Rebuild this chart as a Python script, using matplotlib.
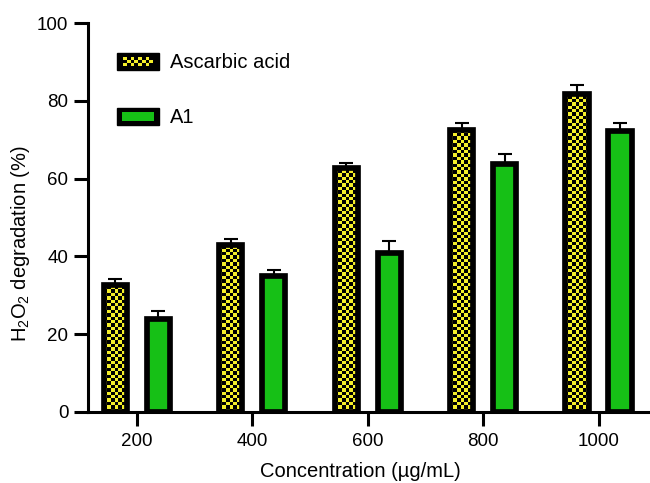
import numpy as np
import matplotlib
matplotlib.use("Agg")
import matplotlib.pyplot as plt
from matplotlib.patches import Patch, Rectangle
from matplotlib.colors import ListedColormap
from matplotlib.legend_handler import HandlerBase

plt.rcParams['font.family'] = ['Liberation Sans', 'DejaVu Sans']
plt.rcParams['mathtext.default'] = 'regular'

concentrations = ['200', '400', '600', '800', '1000']
ascorbic = [32.6, 42.9, 62.8, 72.5, 81.7]
ascorbic_err = [1.7, 1.6, 1.2, 1.8, 2.4]
a1 = [23.8, 34.9, 40.9, 63.7, 72.2]
a1_err = [2.1, 1.5, 3.2, 2.6, 2.1]

yellow = '#f4ee2a'
green = '#16c016'

x = np.arange(len(concentrations))
w = 0.202
off = 0.186
lw = 4.1

fig = plt.figure(figsize=(6.5, 4.83), dpi=100)
ax = fig.add_axes([0.135, 0.147, 0.865, 0.805])

bars_a = ax.bar(x - off, ascorbic, w, facecolor='none', edgecolor='black', linewidth=lw, zorder=3)
bars_b = ax.bar(x + off, a1, w, facecolor=green, edgecolor='black', linewidth=lw, zorder=3)

# checkerboard fill for the ascorbic acid bars
cw, ch = 3.4 / 115.3, 3.4 / 3.887
for b in bars_a:
    x0, y0, bw, bh = b.get_x(), b.get_y(), b.get_width(), b.get_height()
    nx, ny = int(bw / cw) + 1, int(bh / ch) + 1
    board = np.indices((ny, nx)).sum(axis=0) % 2
    img = ax.imshow(board, cmap=ListedColormap([yellow, 'black']),
                    extent=[x0, x0 + nx * cw, y0, y0 + ny * ch], origin='lower',
                    aspect='auto', interpolation='nearest', zorder=2)
    img.set_clip_path(b)

ax.errorbar(x - off, ascorbic, yerr=[np.zeros(5), ascorbic_err], fmt='none', ecolor='black',
            elinewidth=1.5, capsize=5, capthick=1.5, zorder=2.5)
ax.errorbar(x + off, a1, yerr=[np.zeros(5), a1_err], fmt='none', ecolor='black',
            elinewidth=1.5, capsize=5, capthick=1.5, zorder=2.5)

ax.set_xlim(-0.425, 4.445)
ax.set_ylim(0, 100)
ax.set_yticks([0, 20, 40, 60, 80, 100])
ax.set_xticks(x)
ax.set_xticklabels(concentrations)
ax.spines['top'].set_visible(False)
ax.spines['right'].set_visible(False)
ax.spines['left'].set_linewidth(2.2)
ax.spines['bottom'].set_linewidth(2.2)
ax.tick_params(axis='both', width=2.2, length=10, labelsize=13.5)
ax.tick_params(axis='x', pad=5)
ax.tick_params(axis='y', pad=4)

ax.set_xlabel('Concentration (µg/mL)', fontsize=14.5, va='top')
ax.xaxis.set_label_coords(0.484, -0.128)
ax.set_ylabel('H$_2$O$_2$ degradation (%)', fontsize=14.5)
ax.yaxis.set_label_coords(-0.10, 0.434)


class CheckerHandler(HandlerBase):
    def create_artists(self, legend, orig_handle, xdescent, ydescent, width, height, fontsize, trans):
        arts = [Rectangle((-xdescent, -ydescent), width, height, facecolor='black',
                          edgecolor='black', transform=trans)]
        n, m = 8, 3
        mx, my = width * 0.15, height * 0.25
        sx, sy = (width - 2 * mx) / n, (height - 2 * my) / m
        for i in range(n):
            for j in range(m):
                if (i + j) % 2 == 0:
                    arts.append(Rectangle((-xdescent + mx + i * sx, -ydescent + my + j * sy), sx, sy,
                                          facecolor=yellow, edgecolor='none', transform=trans))
        return arts


class GreenHandler(HandlerBase):
    def create_artists(self, legend, orig_handle, xdescent, ydescent, width, height, fontsize, trans):
        outer = Rectangle((-xdescent, -ydescent), width, height, facecolor='black',
                          edgecolor='black', transform=trans)
        mx, my = width * 0.12, height * 0.22
        inner = Rectangle((-xdescent + mx, -ydescent + my), width - 2 * mx, height - 2 * my,
                          facecolor=green, edgecolor='none', transform=trans)
        return [outer, inner]


h_a = Patch(facecolor=yellow)
h_b = Patch(facecolor=green)
ax.legend([h_a, h_b], ['Ascarbic acid', 'A1'], loc='upper left', bbox_to_anchor=(0.027, 0.96),
          frameon=False, fontsize=14.5, handlelength=2.1, handleheight=0.95,
          labelspacing=1.75, handletextpad=0.55, borderpad=0.2,
          handler_map={h_a: CheckerHandler(), h_b: GreenHandler()})

fig.savefig('out.png', dpi=100)
